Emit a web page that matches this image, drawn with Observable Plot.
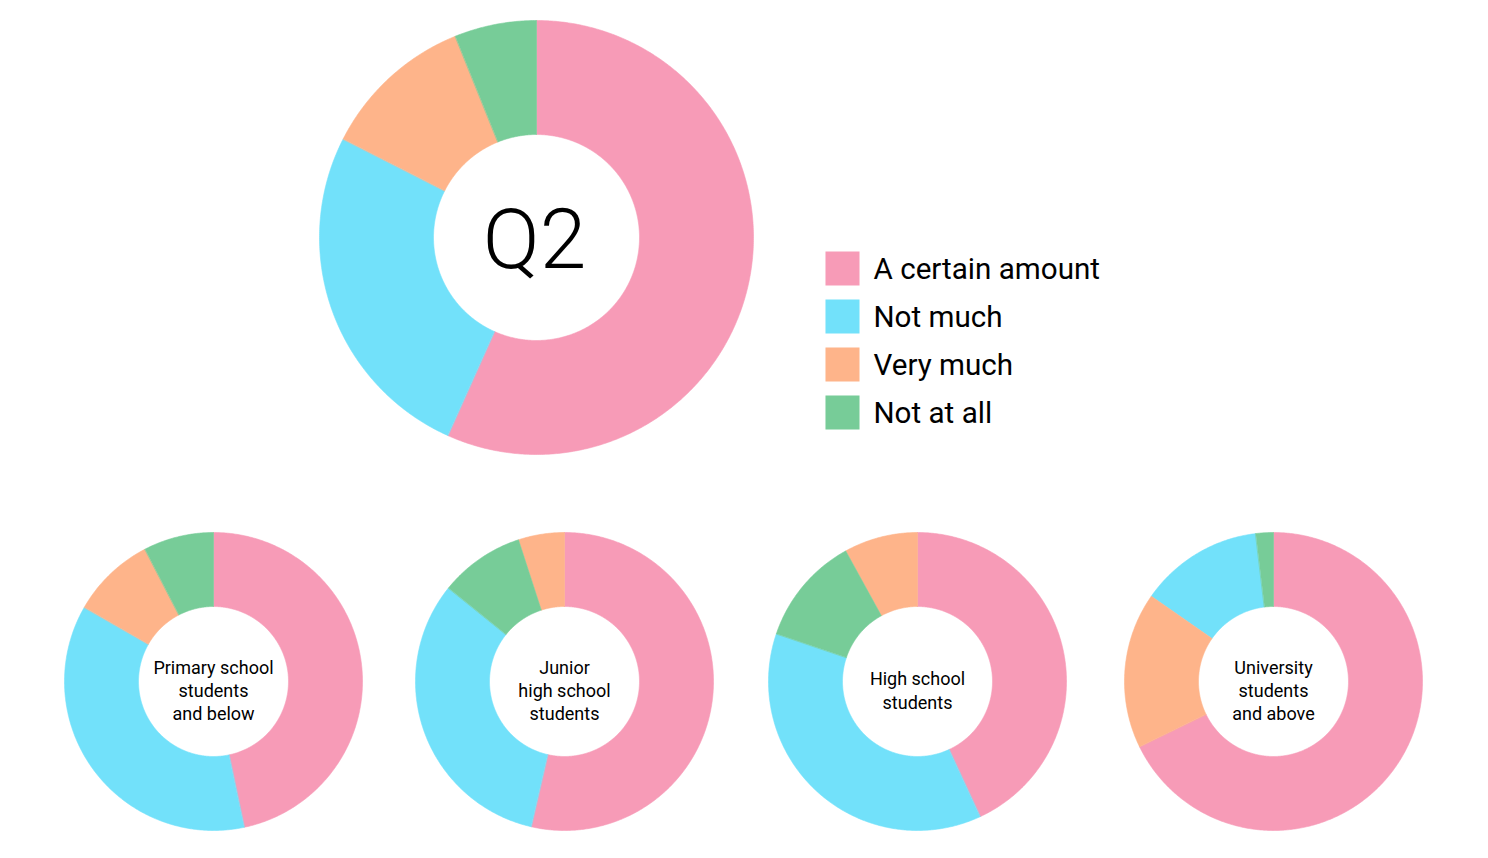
<!DOCTYPE html>
<html>
<head>
<meta charset="utf-8">
<script src="https://cdn.jsdelivr.net/npm/d3@7"></script>
<script src="https://cdn.jsdelivr.net/npm/@observablehq/plot@0.6"></script>
<style>
  html, body { margin: 0; padding: 0; background: #fff; }
  #chart { width: 1488px; height: 858px; }
</style>
</head>
<body>
<div id="chart"></div>
<script>
// ---- Data ----
const categories = ["A certain amount", "Not much", "Very much", "Not at all"];
const colors = ["#F79BB7", "#72E1FA", "#FEB48A", "#77CC98"];
const overallTitle = "Q2";
const overall = [56.7, 25.8, 11.4, 6.1];
const primary = [46.7, 36.6, 9.1, 7.6];
const junior = [53.6, 32.2, 5.0, 9.2];
const highSchool = [43.1, 37.1, 8.0, 11.8];
const university = [67.8, 13.4, 16.9, 1.9];
const groupLabels = [
  "Primary school\nstudents\nand below",
  "Junior\nhigh school\nstudents",
  "High school\nstudents",
  "University\nstudents\nand above"
];

// ---- Layout ----
const W = 1488, H = 858;
const big = {cx: 536, cy: 237, R: 217, r: 103};
const smallX = [213, 564, 917, 1273];
const smallY = 681, smallR = 149, smallr = 75;

const charts = [
  {id: "overall", values: overall, ...big},
  ...[primary, junior, highSchool, university].map((v, i) => ({
    id: "g" + i, values: v, cx: smallX[i], cy: smallY, R: smallR, r: smallr
  }))
];

// Build slice polygons in the chart's coordinate space (angles from d3.pie)
const pts = [];
for (const c of charts) {
  const items = categories.map((cat, i) => ({cat, value: c.values[i]}));
  const arcs = d3.pie().value(d => d.value).sort((a, b) => b.value - a.value)(items);
  for (const a of arcs) {
    const key = c.id + "-" + a.data.cat;
    const n = Math.max(2, Math.ceil((a.endAngle - a.startAngle) / (Math.PI / 360)));
    const ring = [];
    for (let k = 0; k <= n; k++) {
      const t = a.startAngle + (a.endAngle - a.startAngle) * k / n;
      ring.push([c.cx + c.R * Math.sin(t), c.cy - c.R * Math.cos(t)]);
    }
    for (let k = n; k >= 0; k--) {
      const t = a.startAngle + (a.endAngle - a.startAngle) * k / n;
      ring.push([c.cx + c.r * Math.sin(t), c.cy - c.r * Math.cos(t)]);
    }
    for (const [x, y] of ring) pts.push({key, cat: a.data.cat, x, y});
  }
}

const labelRows = charts.slice(1).map((c, i) => ({x: c.cx, y: c.cy + 8, text: groupLabels[i]}));
const legendRows = categories.map((cat, i) => ({cat, x: 842, tx: 873, y: 268 + i * 48}));

const plot = Plot.plot({
  width: W,
  height: H,
  margin: 0,
  x: {domain: [0, W], range: [0, W], axis: null},
  y: {domain: [0, H], range: [0, H], axis: null},
  color: {domain: categories, range: colors},
  style: {fontFamily: "Roboto, 'Open Sans', sans-serif", background: "#fff"},
  marks: [
    Plot.line(pts, {x: "x", y: "y", z: "key", fill: "cat", stroke: "cat", strokeWidth: 0.6, curve: "linear-closed"}),
    Plot.text([overallTitle], {x: () => big.cx - 2, y: () => big.cy + 4, text: d => d, fontSize: 84, fontWeight: 300, fill: "#000", lineAnchor: "middle"}),
    Plot.text(labelRows, {x: "x", y: "y", text: "text", fontSize: 18, lineHeight: 1.3, fill: "#000", lineAnchor: "middle"}),
    Plot.dot(legendRows, {x: "x", y: "y", symbol: "square", r: 19.2, fill: "cat", stroke: null}),
    Plot.text(legendRows, {x: "tx", y: "y", dy: 1, text: "cat", textAnchor: "start", fontSize: 29.6, fill: "#000", lineAnchor: "middle"})
  ]
});
document.getElementById("chart").appendChild(plot);
</script>
</body>
</html>
